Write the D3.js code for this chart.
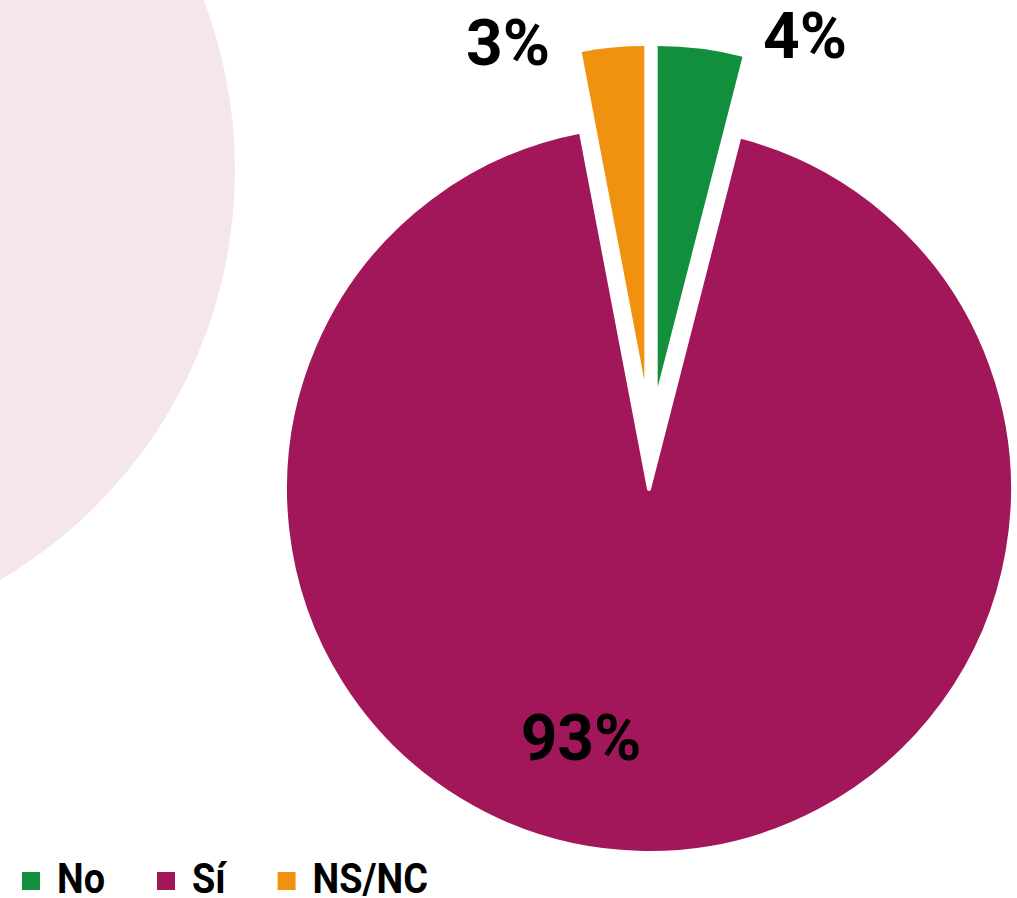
<!DOCTYPE html>
<html><head><meta charset="utf-8">
<script src="https://cdn.jsdelivr.net/npm/d3@7"></script>
<style>
html,body{margin:0;padding:0;background:#fff;}
svg{display:block;}
</style></head>
<body>
<svg id="chart" width="1017" height="898"></svg>
<script>
// ---- data ----
const categories = ["No", "Sí", "NS/NC"];
const values = [4, 93, 3];
const valueLabels = ["4%", "93%", "3%"];
const colors = ["#118f3c", "#a2175a", "#f0920f"];

// ---- layout (styles/positions) ----
const W = 1017, H = 898;
const cx = 649, cy = 489, R = 364;
// per-slice explode offset and radius
const explode = {
  "No":    {dx: 8.7,  dy: -102, r: 341, stroke: 0},
  "Sí":    {dx: 0,    dy: 0,    r: R,   stroke: 4},
  "NS/NC": {dx: -4.7, dy: -109, r: 334, stroke: 0}
};
const labelPos = {
  "No":    {x: 805, y: 58},
  "Sí":    {x: 581, y: 760},
  "NS/NC": {x: 508, y: 65}
};

const svg = d3.select("#chart");

// decorative background circle
svg.append("circle")
  .attr("cx", -240).attr("cy", 170).attr("r", 475)
  .attr("fill", "#f5e6ee");

const data = categories.map((c, i) => ({cat: c, value: values[i], label: valueLabels[i], color: colors[i]}));

const pie = d3.pie().value(d => d.value).sort(null).startAngle(0).endAngle(2 * Math.PI);
const arcs = pie(data);

const g = svg.append("g").attr("transform", `translate(${cx},${cy})`);

g.selectAll("path.slice")
  .data(arcs)
  .join("path")
  .attr("class", "slice")
  .attr("transform", d => `translate(${explode[d.data.cat].dx},${explode[d.data.cat].dy})`)
  .attr("d", d => d3.arc().innerRadius(0).outerRadius(explode[d.data.cat].r)(d))
  .attr("fill", d => d.data.color)
  .attr("stroke", d => explode[d.data.cat].stroke ? "#fff" : "none")
  .attr("stroke-width", d => explode[d.data.cat].stroke)
  .attr("stroke-linejoin", "round");

svg.selectAll("text.vlabel")
  .data(arcs)
  .join("text")
  .attr("class", "vlabel")
  .attr("x", d => labelPos[d.data.cat].x)
  .attr("y", d => labelPos[d.data.cat].y)
  .attr("text-anchor", "middle")
  .attr("font-family", "Roboto, 'Liberation Sans', sans-serif")
  .attr("font-weight", 700)
  .attr("font-size", 64)
  .attr("fill", "#000")
  .text(d => d.data.label);

// legend
const legend = svg.append("g").attr("class", "legend");
let lx = 22;
const sq = 18, legY = 872, textGap = 17, itemGap = 52, squeeze = 0.9;
data.forEach(d => {
  legend.append("rect")
    .attr("x", lx).attr("y", legY).attr("width", sq).attr("height", sq)
    .attr("fill", d.color);
  const t = legend.append("text")
    .attr("transform", `translate(${lx + sq + textGap},893) scale(${squeeze},1)`)
    .attr("font-family", "Roboto, 'Liberation Sans', sans-serif")
    .attr("font-weight", 700)
    .attr("font-size", 42)
    .attr("fill", "#000")
    .text(d.cat);
  lx = lx + sq + textGap + t.node().getComputedTextLength() * squeeze + itemGap;
});
</script>
</body></html>
